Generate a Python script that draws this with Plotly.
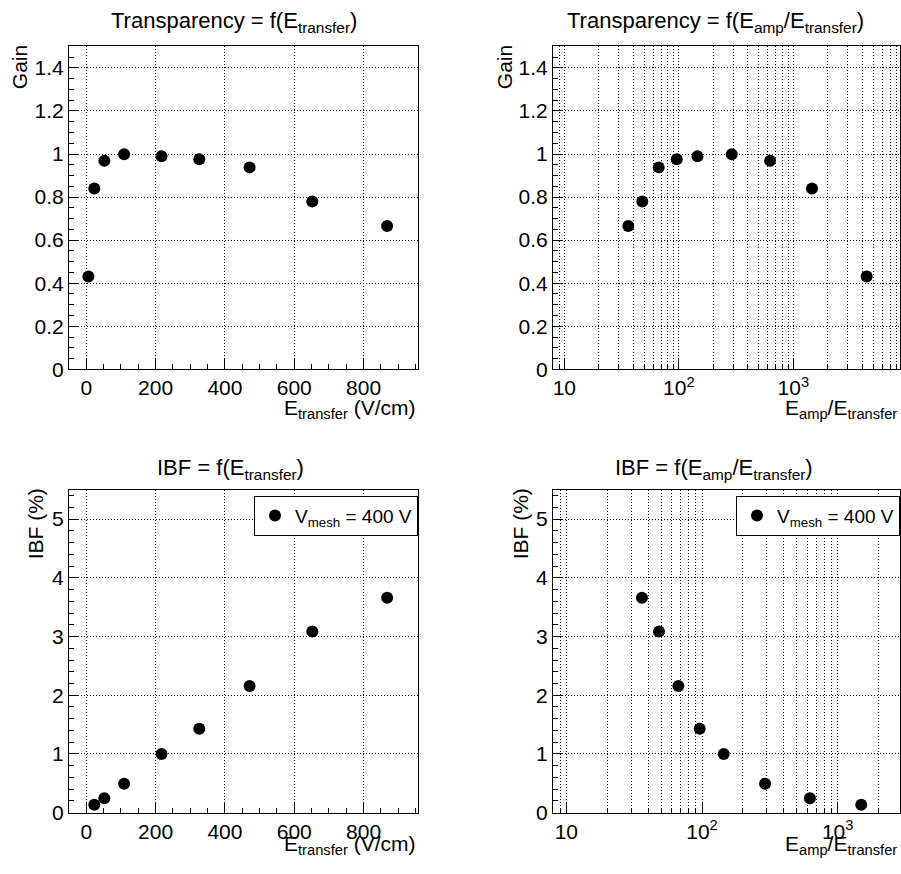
import plotly.graph_objects as go

# ---------------- data ----------------
e_transfer_gain = [6, 23, 52, 109, 217, 326, 471, 652, 868]          # V/cm
gain_vs_e = [0.431, 0.840, 0.969, 0.999, 0.990, 0.976, 0.938, 0.779, 0.666]

ratio_gain = [36.2, 48.0, 66.7, 95.9, 145.6, 290.0, 627.0, 1456.0, 4375.0]   # E_amp/E_transfer
gain_vs_ratio = [0.666, 0.779, 0.938, 0.976, 0.990, 0.999, 0.969, 0.840, 0.431]

e_transfer_ibf = [23, 52, 109, 217, 326, 471, 652, 868]
ibf_vs_e = [0.134, 0.247, 0.493, 0.997, 1.428, 2.157, 3.086, 3.662]      # %

ratio_ibf = [36.1, 48.2, 67.0, 96.2, 144.5, 291.6, 624.0, 1490.0]
ibf_vs_ratio = [3.662, 3.086, 2.157, 1.428, 0.997, 0.493, 0.247, 0.134]

legend_label = "V<sub>mesh</sub> = 400 V"
log_major = [10, 100, 1000]
log_major_text = ["10", "10<sup>2</sup>", "10<sup>3</sup>"]

# ---------------- layout helpers ----------------
W, H = 901, 874
FONT = "Liberation Sans, Arial, Helvetica, sans-serif"


def fx(p):
    return p / W


def fy(p):
    return 1 - p / H


panels = {
    "TL": (69, 418, 47, 374),
    "TR": (553, 900, 47, 374),
    "BL": (69, 418, 496, 823),
    "BR": (553, 900, 496, 823),
}

GRID = dict(showgrid=True, gridcolor="black", gridwidth=1, griddash="1px,2px")
BASE = dict(showline=True, linecolor="black", linewidth=1, mirror=True,
            ticks="inside", ticklen=10, tickwidth=1, tickcolor="black",
            zeroline=False, tickfont=dict(size=21, color="black", family=FONT),
            **GRID)

log_minor = [m * d for d in (1, 10, 100, 1000) for m in range(2, 10)]


def lin_x(dom):
    return dict(BASE, domain=dom, range=[-50, 957], tick0=0, dtick=200,
                minor=dict(ticks="inside", ticklen=5, tickcolor="black", dtick=50,
                           showgrid=False))


def log_x(dom, rng):
    return dict(BASE, domain=dom, type="log", range=rng, tickmode="array",
                tickvals=log_major, ticktext=log_major_text,
                minor=dict(tickmode="array", tickvals=log_minor, ticks="inside",
                           ticklen=5, tickcolor="black", showgrid=True,
                           gridcolor="black", gridwidth=1, griddash="1px,2px"))


def y_ax(dom, rng, dt, mdt):
    return dict(BASE, domain=dom, range=rng, tick0=0, dtick=dt,
                minor=dict(ticks="inside", ticklen=5, tickcolor="black", dtick=mdt,
                           showgrid=False))


def dom_x(k):
    l, r, t, b = panels[k]
    return [fx(l), fx(r)]


def dom_y(k):
    l, r, t, b = panels[k]
    return [fy(b), fy(t)]


marker = dict(size=12, color="black", symbol="circle")

fig = go.Figure()
fig.add_trace(go.Scatter(x=e_transfer_gain, y=gain_vs_e, mode="markers", marker=marker,
                         xaxis="x", yaxis="y", showlegend=False))
fig.add_trace(go.Scatter(x=ratio_gain, y=gain_vs_ratio, mode="markers", marker=marker,
                         xaxis="x2", yaxis="y2", showlegend=False))
fig.add_trace(go.Scatter(x=e_transfer_ibf, y=ibf_vs_e, mode="markers", marker=marker,
                         xaxis="x3", yaxis="y3", name=legend_label, legend="legend"))
fig.add_trace(go.Scatter(x=ratio_ibf, y=ibf_vs_ratio, mode="markers", marker=marker,
                         xaxis="x4", yaxis="y4", name=legend_label, legend="legend2"))

leg_common = dict(bgcolor="white", bordercolor="black", borderwidth=1,
                  font=dict(size=19, color="black", family=FONT),
                  xanchor="right", yanchor="top", itemsizing="trace")

fig.update_layout(
    width=W, height=H, margin=dict(l=0, r=0, t=0, b=0),
    paper_bgcolor="white", plot_bgcolor="white",
    font=dict(family=FONT, color="black"),
    xaxis=dict(lin_x(dom_x("TL")), anchor="y"),
    yaxis=dict(y_ax(dom_y("TL"), [0, 1.5], 0.2, 0.05), anchor="x"),
    xaxis2=dict(log_x(dom_x("TR"), [0.901, 3.932]), anchor="y2"),
    yaxis2=dict(y_ax(dom_y("TR"), [0, 1.5], 0.2, 0.05), anchor="x2"),
    xaxis3=dict(lin_x(dom_x("BL")), anchor="y3"),
    yaxis3=dict(y_ax(dom_y("BL"), [0, 5.5], 1, 0.2), anchor="x3"),
    xaxis4=dict(log_x(dom_x("BR"), [0.902, 3.459]), anchor="y4"),
    yaxis4=dict(y_ax(dom_y("BR"), [0, 5.5], 1, 0.2), anchor="x4"),
    legend=dict(leg_common, x=fx(418), y=fy(502)),
    legend2=dict(leg_common, x=fx(900), y=fy(502)),
)

ann = []


def text(x, y, s, size=21, xa="center", ya="middle", angle=0):
    ann.append(dict(x=fx(x), y=fy(y), xref="paper", yref="paper", text=s,
                    showarrow=False, xanchor=xa, yanchor=ya, textangle=angle,
                    font=dict(size=size, color="black", family=FONT)))


# titles
text(234, 22, "Transparency = f(E<sub>transfer</sub>)", size=22)
text(715, 22, "Transparency = f(E<sub>amp</sub>/E<sub>transfer</sub>)", size=22)
text(230, 475, "IBF = f(E<sub>transfer</sub>)", size=22)
text(714, 475, "IBF = f(E<sub>amp</sub>/E<sub>transfer</sub>)", size=22)

# x axis titles
text(417, 414, "E<sub>transfer</sub> (V/cm)", xa="right")
text(899, 414, "E<sub>amp</sub>/E<sub>transfer</sub>", xa="right")
text(417, 856, "E<sub>transfer</sub> (V/cm)", xa="right")
text(899, 856, "E<sub>amp</sub>/E<sub>transfer</sub>", xa="right")

# y axis titles
text(19, 68, "Gain", angle=-90)
text(504, 68, "Gain", angle=-90)
text(35, 531, "IBF (%)", angle=-90)
text(520, 531, "IBF (%)", angle=-90)

fig.update_layout(annotations=ann)
fig.write_html("out.html", config={"displayModeBar": False},
               post_script="document.body.style.margin='0';document.body.style.overflow='hidden';")
